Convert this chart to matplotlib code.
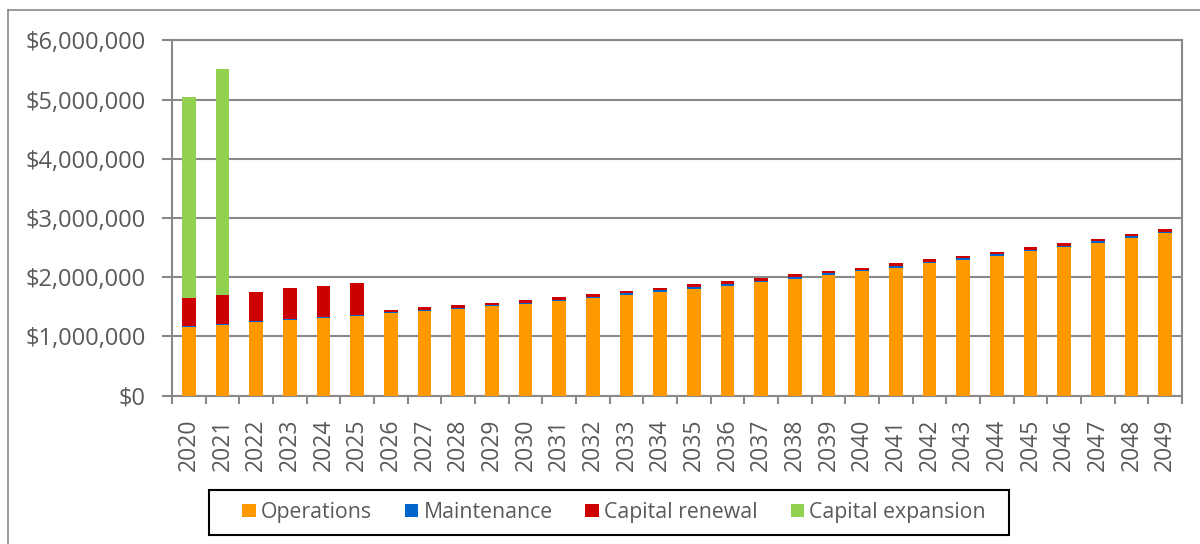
import matplotlib
matplotlib.use("Agg")
import matplotlib.pyplot as plt
from matplotlib.lines import Line2D
from matplotlib.patches import Patch, Rectangle
from matplotlib.ticker import FuncFormatter, FixedLocator
import numpy as np

years = [str(y) for y in range(2020, 2050)]

operations = [1165000, 1198000, 1245000, 1280000, 1320000, 1352000, 1390000, 1430000,
              1470000, 1510000, 1555000, 1605000, 1655000, 1708000, 1758000, 1808000,
              1860000, 1918000, 1978000, 2043000, 2098000, 2163000, 2232000, 2297000,
              2366000, 2436000, 2506000, 2580000, 2660000, 2740000]
maintenance = [15000, 15000, 15000, 15000, 15000, 15000, 16000, 16000, 17000, 17000,
               18000, 18000, 19000, 19000, 20000, 20000, 21000, 21000, 22000, 22000,
               23000, 23000, 24000, 25000, 25000, 26000, 27000, 28000, 29000, 30000]
capital_renewal = [475000, 487000, 490000, 515000, 525000, 533000, 39000, 44000, 38000,
                   43000, 47000, 47000, 46000, 43000, 42000, 52000, 49000, 51000, 50000,
                   45000, 39000, 49000, 44000, 38000, 39000, 43000, 42000, 42000, 41000, 50000]
capital_expansion = [3395000, 3820000] + [0] * 28

series_names = ["Operations", "Maintenance", "Capital renewal", "Capital expansion"]
colors = ["#FF9900", "#0066CC", "#CC0000", "#92D050"]

plt.rcParams['font.family'] = ['Open Sans', 'DejaVu Sans']

W, H = 1200, 544
fig = plt.figure(figsize=(W / 100, H / 100), dpi=100)
ax = fig.add_axes([172/W, 1 - 395.7/H, (1182 - 172)/W, (395.7 - 40.3)/H])

x = np.arange(len(years))
width = 0.4
bottom = np.zeros(len(years))
data = [operations, maintenance, capital_renewal, capital_expansion]
for vals, col in zip(data, colors):
    vals = np.array(vals, dtype=float)
    ax.bar(x, vals, width, bottom=bottom, color=col, linewidth=0, zorder=3)
    bottom += vals

grid_col = "#898989"
text_col = "#595959"
ax.set_xlim(-0.5, len(years) - 0.5)
ax.set_ylim(0, 6000000)
ax.set_yticks(np.arange(0, 6000001, 1000000))
ax.yaxis.set_major_formatter(FuncFormatter(lambda v, p: "${:,.0f}".format(v)))
ax.grid(axis='y', color=grid_col, linewidth=1.5, zorder=1)
ax.set_axisbelow(True)

ax.set_xticks(x)
ax.set_xticklabels(years, rotation=90, va='top', ha='center')
ax.xaxis.set_minor_locator(FixedLocator(np.arange(-0.5, len(years), 1.0)))
ax.tick_params(axis='x', which='major', length=0, pad=16.5, labelsize=16.5, labelcolor=text_col)
ax.tick_params(axis='x', which='minor', length=6, width=1.5, color=grid_col, direction='out')
ax.tick_params(axis='y', which='major', length=7, width=1.5, color=grid_col, direction='out',
               pad=12, labelsize=17, labelcolor=text_col)

for s in ax.spines.values():
    s.set_color(grid_col)
    s.set_linewidth(1.5)

# outer chart border (partially visible)
fig.add_artist(Line2D([8/W, 8/W], [0, 1 - 10/H], transform=fig.transFigure,
                      color=grid_col, linewidth=1.2))
fig.add_artist(Line2D([8/W, 1], [1 - 10/H, 1 - 10/H], transform=fig.transFigure,
                      color=grid_col, linewidth=1.2))

handles = [Patch(facecolor=c, edgecolor='none') for c in colors]
leg = fig.legend(handles, series_names, loc='center', bbox_to_anchor=(614/W, 1 - 512.5/H),
                 ncol=4, frameon=False, fontsize=15.3,
                 handlelength=0.62, handleheight=0.62, handletextpad=0.25,
                 columnspacing=1.55, borderpad=0.3, labelcolor=text_col)
# legend box
fig.add_artist(Rectangle((209/W, 1 - 535/H), (1009 - 209)/W, 45/H, transform=fig.transFigure,
                         facecolor='none', edgecolor='black', linewidth=1.5))

fig.savefig("out.png", dpi=100)
